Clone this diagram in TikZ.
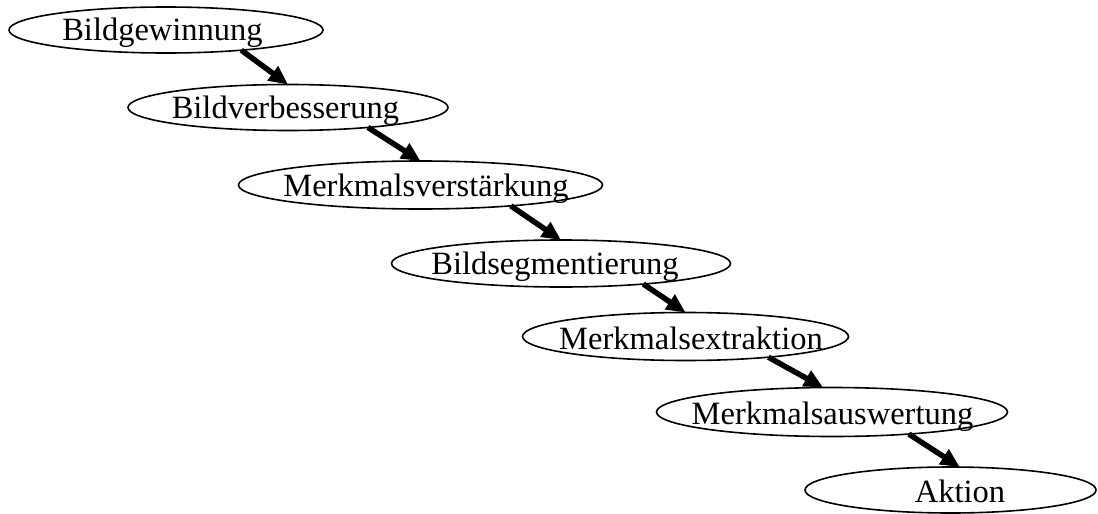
\documentclass[tikz,border=0pt]{standalone}
\usepackage{fontspec}
\setmainfont{Liberation Serif}
\usetikzlibrary{shapes.geometric,arrows.meta}
\tikzset{
  stage/.style={draw=black, line width=1.6pt, ellipse, inner sep=0pt, outer sep=0pt},
  lbl/.style={inner sep=0pt, anchor=base, font=\fontsize{32.5}{38}\selectfont},
  flow/.style={line width=5.5pt, -{Triangle[length=19pt,width=17pt]}}
}
\begin{document}
\begin{tikzpicture}[x=1pt,y=-1pt]
\useasboundingbox (0,0) rectangle (1098,514);
\node[stage, minimum width=314pt, minimum height=46pt] (e1) at (166,30) {};
\node[stage, minimum width=320pt, minimum height=46pt] (e2) at (288,107.5) {};
\node[stage, minimum width=364pt, minimum height=48pt] (e3) at (420.5,185) {};
\node[stage, minimum width=339pt, minimum height=47pt] (e4) at (561,263.5) {};
\node[stage, minimum width=326pt, minimum height=48pt] (e5) at (685.5,336.5) {};
\node[stage, minimum width=351pt, minimum height=49pt] (e6) at (832,412) {};
\node[stage, minimum width=291pt, minimum height=46pt] (e7) at (950.5,490) {};
\node[lbl] (t1) at (162.5,40) {Bildgewinnung};
\node[lbl] (t2) at (285.5,118.5) {Bildverbesserung};
\node[lbl] (t3) at (426,196) {Merkmalsverstärkung};
\node[lbl] (t4) at (555,274) {Bildsegmentierung};
\node[lbl] (t5) at (691,349) {Merkmalsextraktion};
\node[lbl] (t6) at (832.5,424) {Merkmalsauswertung};
\node[lbl] (t7) at (960,502) {Aktion};
\draw[flow] (e1.-15) -- (e2.north);
\draw[flow] (e2.-14) -- (e3.north);
\draw[flow] (e3.-13) -- (e4.north);
\draw[flow] (e4.-14) -- (e5.north);
\draw[flow] (e5.-14) -- (e6.110);
\draw[flow] (e6.-16) -- (e7.68);
\end{tikzpicture}
\end{document}
